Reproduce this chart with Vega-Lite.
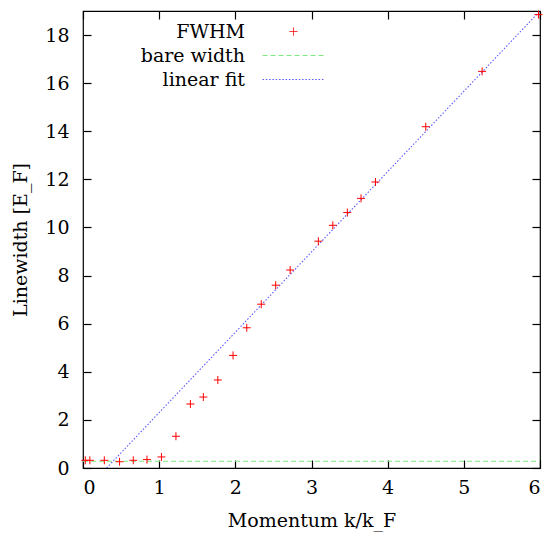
{
  "$schema": "https://vega.github.io/schema/vega-lite/v6.json",
  "width": 457,
  "height": 457,
  "autosize": "none",
  "padding": {"left": 83, "top": 11, "right": 15, "bottom": 72},
  "background": "white",
  "config": {
    "font": "DejaVu Serif",
    "view": {"stroke": "black", "strokeWidth": 1.2},
    "axis": {
      "domain": false,
      "grid": false,
      "ticks": true,
      "tickSize": -8,
      "tickColor": "black",
      "tickWidth": 1.2,
      "labelFont": "DejaVu Serif",
      "titleFont": "DejaVu Serif",
      "labelFontSize": 19,
      "labelColor": "black",
      "titleFontSize": 19,
      "titleFontWeight": "normal",
      "titleColor": "black"
    },
    "legend": {
      "orient": "none",
      "legendX": 200,
      "legendY": 10,
      "padding": 0,
      "title": null,
      "labelFont": "DejaVu Serif",
      "labelFontSize": 19,
      "labelColor": "black",
      "labelAlign": "right",
      "labelOffset": -59,
      "symbolSize": 400,
      "symbolStrokeWidth": 1,
      "rowPadding": 3
    }
  },
  "datasets": {
    "fwhm": [
      {"series": "FWHM", "k": 0.03, "w": 0.32},
      {"series": "FWHM", "k": 0.09, "w": 0.32},
      {"series": "FWHM", "k": 0.28, "w": 0.32},
      {"series": "FWHM", "k": 0.48, "w": 0.26},
      {"series": "FWHM", "k": 0.66, "w": 0.32},
      {"series": "FWHM", "k": 0.84, "w": 0.35},
      {"series": "FWHM", "k": 1.03, "w": 0.46},
      {"series": "FWHM", "k": 1.22, "w": 1.32},
      {"series": "FWHM", "k": 1.41, "w": 2.66},
      {"series": "FWHM", "k": 1.58, "w": 2.95},
      {"series": "FWHM", "k": 1.77, "w": 3.66},
      {"series": "FWHM", "k": 1.97, "w": 4.68},
      {"series": "FWHM", "k": 2.15, "w": 5.83},
      {"series": "FWHM", "k": 2.34, "w": 6.81},
      {"series": "FWHM", "k": 2.53, "w": 7.6},
      {"series": "FWHM", "k": 2.72, "w": 8.23},
      {"series": "FWHM", "k": 3.09, "w": 9.43},
      {"series": "FWHM", "k": 3.28, "w": 10.09},
      {"series": "FWHM", "k": 3.47, "w": 10.62},
      {"series": "FWHM", "k": 3.65, "w": 11.21},
      {"series": "FWHM", "k": 3.84, "w": 11.89},
      {"series": "FWHM", "k": 4.5, "w": 14.19},
      {"series": "FWHM", "k": 5.24, "w": 16.49},
      {"series": "FWHM", "k": 5.98, "w": 18.85}
    ],
    "bare": [
      {"series": "bare width", "k": 0, "w": 0.28},
      {"series": "bare width", "k": 6, "w": 0.28}
    ],
    "fit": [
      {"series": "linear fit", "k": 0.31, "w": 0},
      {"series": "linear fit", "k": 6, "w": 19.0}
    ]
  },
  "resolve": {"axis": {"x": "independent", "y": "independent"}},
  "layer": [
    {
      "data": {"name": "bare"},
      "mark": {"type": "line", "strokeWidth": 1, "clip": true},
      "encoding": {
        "x": {"field": "k", "type": "quantitative", "scale": {"domain": [0, 6], "nice": false},
              "axis": {"orient": "top", "labels": false, "title": null, "values": [0, 1, 2, 3, 4, 5, 6]}},
        "y": {"field": "w", "type": "quantitative", "scale": {"domain": [0, 19], "nice": false, "zero": false},
              "axis": {"orient": "right", "labels": false, "title": null, "values": [0, 2, 4, 6, 8, 10, 12, 14, 16, 18]}},
        "color": {"field": "series", "type": "nominal",
                  "scale": {"domain": ["FWHM", "bare width", "linear fit"], "range": ["#ff0000", "#80e880", "#5a5aff"]},
                  "legend": {"encode": {"symbols": {"update": {"stroke": {"scale": "color", "field": "value"}, "fill": {"value": "transparent"}}}}}},
        "strokeDash": {"field": "series", "type": "nominal",
                  "scale": {"domain": ["FWHM", "bare width", "linear fit"], "range": [[1, 0], [5, 3], [1.5, 1.8]]}}
      }
    },
    {
      "data": {"name": "fit"},
      "mark": {"type": "line", "strokeWidth": 1.1, "clip": true},
      "encoding": {
        "x": {"field": "k", "type": "quantitative", "axis": null},
        "y": {"field": "w", "type": "quantitative", "axis": null},
        "color": {"field": "series", "type": "nominal"},
        "strokeDash": {"field": "series", "type": "nominal"}
      }
    },
    {
      "data": {"name": "fwhm"},
      "mark": {"type": "point", "filled": false, "size": 400, "strokeWidth": 1, "opacity": 1},
      "encoding": {
        "x": {"field": "k", "type": "quantitative",
              "axis": {"orient": "bottom", "title": "Momentum k/k_F", "values": [0, 1, 2, 3, 4, 5, 6],
                       "labelPadding": 18, "titlePadding": 14}},
        "y": {"field": "w", "type": "quantitative",
              "axis": {"orient": "left", "title": "Linewidth [E_F]", "values": [0, 2, 4, 6, 8, 10, 12, 14, 16, 18],
                       "labelPadding": 22, "titlePadding": 14}},
        "color": {"field": "series", "type": "nominal"},
        "shape": {"field": "series", "type": "nominal",
                  "scale": {"domain": ["FWHM", "bare width", "linear fit"], "range": ["M-0.4,0H0.4M0,-0.4V0.4", "M-3.1,0H3.1", "M-3.1,0H3.1"]}}
      }
    }
  ]
}
